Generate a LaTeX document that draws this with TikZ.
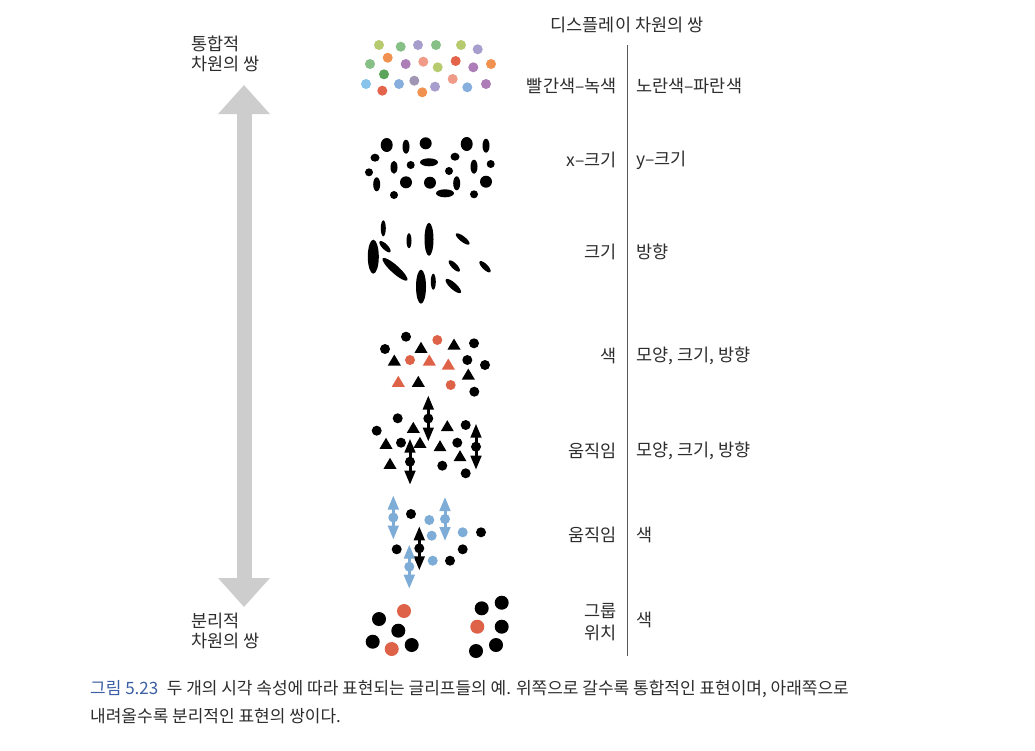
\documentclass[tikz,border=0pt]{standalone}
\usepackage{fontspec}
\setmainfont{Noto Sans CJK KR}
\usetikzlibrary{arrows.meta}

\definecolor{txtgray}{RGB}{45,45,45}
\definecolor{capblue}{RGB}{60,95,165}
\definecolor{bararrow}{RGB}{205,205,205}
\definecolor{glred}{RGB}{222,98,72}
\definecolor{glblue}{RGB}{125,172,215}
\definecolor{dOlive}{RGB}{182,202,110}
\definecolor{dGreen}{RGB}{135,192,135}
\definecolor{dDkGreen}{RGB}{90,165,90}
\definecolor{dLav}{RGB}{168,158,205}
\definecolor{dPurple}{RGB}{172,125,182}
\definecolor{dOrange}{RGB}{240,145,80}
\definecolor{dSalmon}{RGB}{240,155,135}
\definecolor{dRed}{RGB}{228,100,75}
\definecolor{dBlue}{RGB}{135,175,222}
\definecolor{dLtBlue}{RGB}{135,195,235}
\definecolor{dGray}{RGB}{160,150,180}

\newcommand{\glyphtri}[3]{\fill[#3] (#1-6.5,#2+4.5) -- (#1+6.5,#2+4.5) -- (#1,#2-6.5) -- cycle;}

\begin{document}
\begin{tikzpicture}[
		x=1pt,
		y=-1pt,
		font=\fontsize{17.5}{20}\selectfont,
		lab/.style={text=txtgray, inner sep=0pt},
		leftlab/.style={lab, anchor=east, align=right},
		rightlab/.style={lab, anchor=west, align=left},
		move/.style={line width=3pt, {Triangle[length=14pt,width=10.5pt]}-{Triangle[length=14pt,width=10.5pt]}}
	]
	\useasboundingbox[fill=white] (0,0) rectangle (1035,750);

	% headings and scale
	\node[lab] (head) at (627,25) {디스플레이 차원의 쌍};
	\node[lab, anchor=north west, align=left] (integral) at (191,36) {통합적\\차원의 쌍};
	\node[lab, anchor=north west, align=left] (separable) at (191,613) {분리적\\차원의 쌍};

	\coordinate (arrtop) at (244,85);
	\coordinate (arrbot) at (244,607);
	\draw[bararrow, line width=15pt, {Triangle[length=29pt,width=50pt]}-{Triangle[length=29pt,width=50pt]}] (arrtop) -- (arrbot);

	\coordinate (divtop) at (627,45);
	\coordinate (divbot) at (627,656);
	\draw[txtgray!80, line width=0.9pt] (divtop) -- (divbot);

	% row labels
	\node[leftlab]  (l1) at (617,86)  {빨간색–녹색};
	\node[rightlab] (r1) at (636,86)  {노란색–파란색};
	\node[leftlab]  (l2) at (617,160) {x–크기};
	\node[rightlab] (r2) at (636,160) {y–크기};
	\node[leftlab]  (l3) at (617,252) {크기};
	\node[rightlab] (r3) at (636,252) {방향};
	\node[leftlab]  (l4) at (617,356) {색};
	\node[rightlab] (r4) at (636,356) {모양, 크기, 방향};
	\node[leftlab]  (l5) at (617,451) {움직임};
	\node[rightlab] (r5) at (636,451) {모양, 크기, 방향};
	\node[leftlab]  (l6) at (617,535) {움직임};
	\node[rightlab] (r6) at (636,535) {색};
	\node[leftlab, font=\fontsize{17.5}{22}\selectfont] (l7) at (617,622) {그룹\\위치};
	\node[rightlab] (r7) at (636,620) {색};

	% red-green / yellow-blue dots
	\foreach \x/\y/\c in {379/45/dOlive, 400.7/46.7/dGreen, 418/45/dLav, 436/45/dGreen, 461/45/dOlive, 477.7/49.3/dLav,
		387.7/57.7/dOrange, 370/64/dGreen, 405.7/64/dPurple, 423.3/61.7/dSalmon, 437.7/67.3/dOlive, 455.7/61/dRed,
		473.3/67.3/dPurple, 491/64/dOrange, 384/74.3/dDkGreen, 366/84/dLtBlue, 382.3/90.7/dRed, 399/84/dBlue,
		414.3/80.7/dGray, 422.3/92.3/dOrange, 435/86.7/dLav, 452.7/79/dSalmon, 467.3/87.3/dBlue, 486/84/dPurple}
		{\fill[\c] (\x,\y) circle (5pt);}

	% x-size / y-size
	\foreach \x/\y/\a/\b in {386.7/145/6/7, 406/146.7/3.5/7, 425.7/143.3/6/6, 466.7/144/6/7, 486/145.7/3.5/7,
		375/157.7/4.5/4, 394/167.3/3.5/6.5, 410.7/165/4/4, 429/162.3/9/4, 455/156.7/4.5/4, 474/166.7/3.5/7,
		490.7/164/4/4, 369/172.3/4/4, 449/171/4/4, 376.7/184.3/3.5/7, 406/182.3/6/6, 430/182.7/6/6,
		456.7/183.3/3.5/7, 486/181.7/6/6, 394/195/4/4, 445/193.3/9/4, 474/194.3/4/4}
		{\fill (\x,\y) circle[x radius=\a pt, y radius=\b pt];}

	% size / orientation
	\foreach \x/\y/\a/\b/\r in {383.3/228.3/8/2.5/90, 373.3/256.7/17/5.5/90, 385/246.7/7.5/2.8/-45, 395/269.3/16.5/4/-42,
		409/240.7/7.5/2.5/90, 429/239.3/16.5/4.5/90, 421/286.7/17/5/90, 433.3/281.7/8/2.5/90,
		462.7/239/8.5/2.8/-38, 454.3/266/7.5/2.8/-45, 453.3/286/10/3.3/-42, 485/266.7/7.5/2.8/-45}
		{\fill (\x,\y) circle[x radius=\a pt, y radius=\b pt, rotate=\r];}

	% color / shape
	\foreach \x/\y/\c in {406/336.7/black, 385/349/black, 437.3/340/glred, 474/343.3/black, 410/360/glred,
		467.3/360/black, 485/365/black, 450.7/385/glred, 474.3/391.7/black}
		{\fill[\c] (\x,\y) circle (5pt);}
	\foreach \x/\y/\c in {421/348.3/black, 454/345/black, 394.3/361/black, 429.3/361/glred, 448.3/365/glred,
		468.3/375/black, 398.3/382.3/glred, 418.3/382.3/black}
		{\glyphtri{\x}{\y}{\c}}

	% motion / shape
	\foreach \x/\y in {397.7/418.3, 376.7/430.7, 465.7/425, 401/442.7, 457.3/442.7, 442.3/465.7, 465.7/473.3}
		{\fill (\x,\y) circle (5pt);}
	\foreach \x/\y in {413.3/428.3, 447.3/426.7, 386/444.3, 420/443.3, 440/446.7, 460/456.7, 390/464.3}
		{\glyphtri{\x}{\y}{black}}
	\foreach \x/\y in {428.3/418.5, 476/446.7, 410/461.7} {
		\draw[move] (\x,\y-23) -- (\x,\y+23);
		\fill (\x,\y) circle (5pt);
	}

	% motion / color
	\foreach \x/\y/\c in {411/514/black, 429.3/520/glblue, 431.7/535.7/glblue, 462.7/532.3/glblue, 481/532.3/black,
		396.7/549.3/black, 462.7/549.3/black, 450/560.7/black, 432.7/560.7/glblue}
		{\fill[\c] (\x,\y) circle (5pt);}
	\foreach \x/\y/\c in {393.3/517.5/glblue, 445/519/glblue, 419.3/548.3/black, 409.3/566.7/glblue} {
		\draw[move, \c] (\x,\y-22) -- (\x,\y+22);
		\fill[\c] (\x,\y) circle (5pt);
	}

	% grouping / color
	\foreach \x/\y/\c in {379/619/black, 404/611/glred, 398.3/630.7/black, 372.7/641.7/black, 391.7/649/glred,
		411.7/645/black, 481.7/608.3/black, 501.7/602.7/black, 477.3/626.7/glred, 501.7/626.7/black,
		496/645/black, 476/651/black}
		{\fill[\c] (\x,\y) circle (7pt);}

	% caption
	\node[lab, anchor=west, align=left, font=\fontsize{17}{28}\selectfont] (caption) at (90,702)
		{\textcolor{capblue}{그림 5.23}\hspace{0.5em}두 개의 시각 속성에 따라 표현되는 글리프들의 예. 위쪽으로 갈수록 통합적인 표현이며, 아래쪽으로\\내려올수록 분리적인 표현의 쌍이다.};
\end{tikzpicture}
\end{document}
